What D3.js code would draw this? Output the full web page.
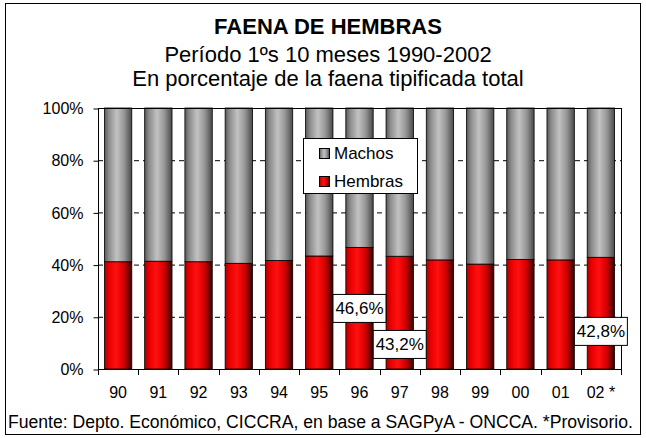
<!DOCTYPE html>
<html>
<head>
<meta charset="utf-8">
<script src="https://cdn.jsdelivr.net/npm/d3@7/dist/d3.min.js"></script>
<style>
  body { margin: 0; background: #fff; }
  svg text { font-family: Arial, "Liberation Sans", sans-serif; fill: #000; }
</style>
</head>
<body>
<div id="chart"></div>
<script>
// Years (last one provisional)
var years = ["90", "91", "92", "93", "94", "95", "96", "97", "98", "99", "00", "01", "02 *"];
// Share of females in total slaughter, %
var hembras = [41.1, 41.3, 41.1, 40.5, 41.6, 43.3, 46.6, 43.2, 41.8, 40.2, 42.0, 41.8, 42.8];
// Males = rest
var machos = hembras.map(function(v) { return 100 - v; });
var yTicks = [0, 20, 40, 60, 80, 100];
var seriesNames = ["Machos", "Hembras"];
// Years that carry a value label
var labelYears = ["96", "97", "02 *"];

var W = 646, H = 438;
var plot = {left: 98, right: 621, top: 108, bottom: 369};

var svg = d3.select("#chart").append("svg")
    .attr("width", W)
    .attr("height", H);

// Gradients for the cylinder-like bars
var defs = svg.append("defs");
function gradient(id, stops) {
    var g = defs.append("linearGradient").attr("id", id)
        .attr("x1", "0%").attr("x2", "100%").attr("y1", "0%").attr("y2", "0%");
    stops.forEach(function(s) {
        g.append("stop").attr("offset", s[0]).attr("stop-color", s[1]);
    });
}
gradient("gradGray", [["0%", "#585858"], ["15%", "#8a8a8a"], ["45%", "#c2c2c2"], ["72%", "#969696"], ["100%", "#4a4a4a"]]);
gradient("gradRed", [["0%", "#a80000"], ["15%", "#e60000"], ["42%", "#ff1010"], ["70%", "#d80000"], ["100%", "#3a0000"]]);

// Outer frame
svg.append("rect")
    .attr("x", 5.5).attr("y", 3.5)
    .attr("width", 635).attr("height", 431)
    .style("fill", "#fff")
    .style("stroke", "#000")
    .style("stroke-width", 1);

// Titles
var cx = 328;
svg.append("text").attr("x", cx).attr("y", 34)
    .attr("text-anchor", "middle")
    .style("font-size", "22px").style("font-weight", "bold")
    .text("FAENA DE HEMBRAS");
svg.append("text").attr("x", cx).attr("y", 62)
    .attr("text-anchor", "middle")
    .style("font-size", "22px")
    .text("Período 1ºs 10 meses 1990-2002");
svg.append("text").attr("x", cx).attr("y", 86)
    .attr("text-anchor", "middle")
    .style("font-size", "22px")
    .text("En porcentaje de la faena tipificada total");

// Scales
var x = d3.scaleBand()
    .domain(years)
    .range([plot.left, plot.right])
    .paddingInner(0.32)
    .paddingOuter(0.16);
var y = d3.scaleLinear()
    .domain([0, 100])
    .range([plot.bottom, plot.top]);

// Dashed gridlines
svg.append("g").selectAll("line")
    .data(yTicks.filter(function(t) { return t > 0 && t < 100; }))
    .enter().append("line")
    .attr("x1", plot.left).attr("x2", plot.right)
    .attr("y1", function(d) { return y(d) + 0.5; })
    .attr("y2", function(d) { return y(d) + 0.5; })
    .style("stroke", "#000")
    .style("stroke-width", 1)
    .style("stroke-dasharray", "5,4");

// Stacked bars: hembras at the bottom, machos on top
var bars = svg.append("g");
bars.selectAll("rect.h")
    .data(years)
    .enter().append("rect")
    .attr("class", "h")
    .attr("x", function(d) { return x(d); })
    .attr("width", x.bandwidth())
    .attr("y", function(d, i) { return y(hembras[i]); })
    .attr("height", function(d, i) { return y(0) - y(hembras[i]); })
    .style("fill", "url(#gradRed)")
    .style("stroke", "#000")
    .style("stroke-width", 0.8);
bars.selectAll("rect.m")
    .data(years)
    .enter().append("rect")
    .attr("class", "m")
    .attr("x", function(d) { return x(d); })
    .attr("width", x.bandwidth())
    .attr("y", function(d, i) { return y(hembras[i] + machos[i]); })
    .attr("height", function(d, i) { return y(hembras[i]) - y(hembras[i] + machos[i]); })
    .style("fill", "url(#gradGray)")
    .style("stroke", "#000")
    .style("stroke-width", 0.8);

// Plot border
svg.append("rect")
    .attr("x", plot.left + 0.5).attr("y", plot.top + 0.5)
    .attr("width", plot.right - plot.left).attr("height", plot.bottom - plot.top)
    .style("fill", "none")
    .style("stroke", "#000")
    .style("stroke-width", 1);

// Y axis
var yAxis = svg.append("g")
    .attr("transform", "translate(" + (plot.left + 0.5) + ",0.5)")
    .call(d3.axisLeft(y).tickValues(yTicks).tickSize(5).tickPadding(10)
        .tickFormat(function(d) { return d + "%"; }));
yAxis.select(".domain").remove();
yAxis.selectAll("text").style("font-size", "16px").style("font-family", "Arial, 'Liberation Sans', sans-serif");
yAxis.selectAll("line").style("stroke", "#000");

// X axis: ticks at category boundaries, labels centered under bars
var step = x.step();
var bounds = years.map(function(d) { return x(d) - step * x.paddingOuter(); });
bounds.push(plot.right);
svg.append("g").selectAll("line")
    .data(bounds)
    .enter().append("line")
    .attr("x1", function(d) { return Math.round(d) + 0.5; })
    .attr("x2", function(d) { return Math.round(d) + 0.5; })
    .attr("y1", plot.bottom)
    .attr("y2", plot.bottom + 6)
    .style("stroke", "#000");
svg.append("g").selectAll("text")
    .data(years)
    .enter().append("text")
    .attr("x", function(d) { return x(d) + x.bandwidth() / 2; })
    .attr("y", 398)
    .attr("text-anchor", "middle")
    .style("font-size", "16px")
    .text(function(d) { return d; });

// Legend
var legend = svg.append("g").attr("transform", "translate(303,138)");
legend.append("rect")
    .attr("x", 0.5).attr("y", 0.5)
    .attr("width", 114).attr("height", 55)
    .style("fill", "#fff")
    .style("stroke", "#000");
seriesNames.forEach(function(name, i) {
    var g = legend.append("g").attr("transform", "translate(16," + (10 + i * 28) + ")");
    g.append("rect")
        .attr("x", 0.5).attr("y", 0.5)
        .attr("width", 10).attr("height", 10)
        .style("fill", i === 0 ? "url(#gradGray)" : "url(#gradRed)")
        .style("stroke", "#000");
    g.append("text")
        .attr("x", 15).attr("y", 10.5)
        .style("font-size", "17px")
        .text(name);
});

// Value labels (placed inside the chart like the original)
var labelAt = {"96": 23.4, "97": 9.6, "02 *": 14.6};
var labels = svg.append("g").selectAll("g")
    .data(labelYears)
    .enter().append("g")
    .attr("transform", function(d) {
        return "translate(" + (x(d) + x.bandwidth() / 2) + "," + y(labelAt[d]) + ")";
    });
labels.append("rect")
    .attr("x", -26.5).attr("y", -13.5)
    .attr("width", 53).attr("height", 28)
    .style("fill", "#fff")
    .style("stroke", "#000");
labels.append("text")
    .attr("y", 6.5)
    .attr("text-anchor", "middle")
    .style("font-size", "17px")
    .text(function(d) {
        var v = hembras[years.indexOf(d)];
        return d3.format(".1f")(v).replace(".", ",") + "%";
    });

// Source note
svg.append("text")
    .attr("x", 8).attr("y", 428)
    .style("font-size", "17.6px")
    .text("Fuente: Depto. Económico, CICCRA, en base a SAGPyA - ONCCA. *Provisorio.");
</script>
</body>
</html>
